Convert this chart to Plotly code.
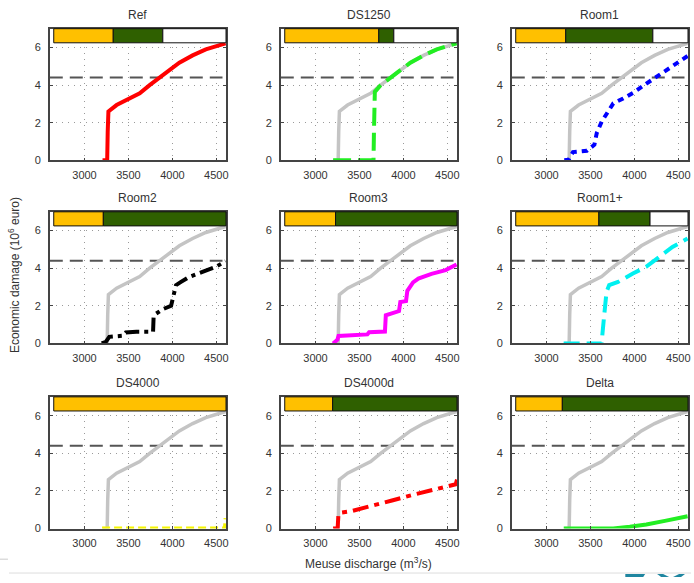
import plotly.graph_objects as go

# ---------------- data ----------------
titles = ["Ref", "DS1250", "Room1", "Room2", "Room3", "Room1+", "DS4000", "DS4000d", "Delta"]

ref_x = [3205, 3258, 3264, 3272, 3365, 3477, 3628, 3741, 3854, 3966, 4079, 4230, 4380, 4605]
ref_y = [0, 0, 1.5, 2.6, 2.94, 3.2, 3.56, 4.0, 4.4, 4.82, 5.19, 5.58, 5.9, 6.22]

ds1250_x = [3200, 3660, 3665, 3670, 3675, 3741, 3854, 3966, 4079, 4230, 4380, 4605]
ds1250_y = [0, 0, 1.5, 3.1, 3.64, 4.0, 4.4, 4.82, 5.19, 5.58, 5.9, 6.22]

room1_x = [3203, 3252, 3301, 3459, 3545, 3571, 3628, 3703, 3760, 3872, 3985, 4136, 4267, 4436, 4605]
room1_y = [0, 0.03, 0.44, 0.51, 0.83, 1.44, 2.06, 2.59, 3.03, 3.29, 3.59, 4.08, 4.49, 5.05, 5.55]

room2_x = [3196, 3244, 3282, 3440, 3470, 3590, 3780, 3786, 3816, 3891, 3985, 4020, 4041, 4098, 4192, 4342, 4493, 4605]
room2_y = [0, 0.09, 0.35, 0.41, 0.58, 0.62, 0.62, 1.4, 1.59, 1.82, 2.0, 2.7, 3.1, 3.27, 3.54, 3.8, 4.07, 4.37]

room3_x = [3200, 3250, 3262, 3380, 3590, 3610, 3790, 3800, 3950, 3965, 4030, 4045, 4090, 4110, 4170, 4320, 4480, 4605]
room3_y = [0, 0.2, 0.4, 0.43, 0.48, 0.6, 0.63, 1.5, 1.72, 2.2, 2.25, 2.8, 3.1, 3.25, 3.45, 3.7, 3.9, 4.2]

room1p_x = [3195, 3626, 3653, 3683, 3713, 3814, 3983, 4133, 4283, 4433, 4605]
room1p_y = [0, 0, 1.33, 2.74, 3.1, 3.27, 3.72, 4.07, 4.6, 5.13, 5.58]

ds4000_x = [3200, 4598, 4605]
ds4000_y = [0, 0, 0.55]

ds4000d_x = [3202, 3252, 3260, 3279, 3412, 3641, 3870, 4099, 4405, 4595, 4610]
ds4000d_y = [0, 0.04, 0.66, 0.84, 0.93, 1.19, 1.49, 1.78, 2.12, 2.35, 2.6]

delta_x = [3196, 3760, 3948, 4136, 4361, 4605]
delta_y = [0, 0, 0.09, 0.21, 0.42, 0.65]

scen_x = [ref_x, ds1250_x, room1_x, room2_x, room3_x, room1p_x, ds4000_x, ds4000d_x, delta_x]
scen_y = [ref_y, ds1250_y, room1_y, room2_y, room3_y, room1p_y, ds4000_y, ds4000d_y, delta_y]

# limits of the coloured bands (discharge, m3/s)
band_start = 2650
yellow_end = [3327, 3720, 3219, 3214, 3228, 3596, 4610, 3195, 3180]
green_end = [3891, 3891, 4210, 4610, 4610, 4178, 4610, 4610, 4610]

safety_level = 4.4
x_ticks = [3000, 3500, 4000, 4500]
y_ticks = [0, 2, 4, 6]

# ---------------- styles / layout ----------------
colors = ["#ff0000", "#22ee22", "#0000ff", "#000000", "#ff00ff", "#00f0f0", "#f5f500", "#ff0000", "#22ee22"]
dashes = ["solid", "18px,7px", "6px,5px", "14px,5px,4px,5px", "solid", "16px,7px", "8px,4px",
          "16px,6px,5px,6px", "solid"]
X_RANGE = [2605, 4610]
Y_RANGE = [0, 7]
W, H = 694, 583
col_left = [50, 282, 514]
col_w = 177
row_top = [29, 214, 401]
row_h = 133
FONT = "Liberation Sans, Arial, sans-serif"
YELLOW = "#ffc000"
DGREEN = "#2f6000"

fig = go.Figure()


def fx(v):
    return (v - X_RANGE[0]) / (X_RANGE[1] - X_RANGE[0])


def fy(v):
    return (v - Y_RANGE[0]) / (Y_RANGE[1] - Y_RANGE[0])


for i in range(9):
    r, c = divmod(i, 3)
    n = "" if i == 0 else str(i + 1)
    xa, ya = "x" + n, "y" + n
    xdom = [col_left[c] / W, min(1.0, (col_left[c] + col_w) / W)]
    ydom = [1 - (row_top[r] + row_h) / H, 1 - row_top[r] / H]
    common = dict(showline=True, linecolor="#444", linewidth=1.5, mirror="ticks",
                  ticks="inside", ticklen=3, tickcolor="#444",
                  showgrid=True, gridcolor="#9a9a9a", gridwidth=1, griddash="1px,5px",
                  zeroline=False, tickfont=dict(family=FONT, size=11, color="#333"))
    fig.layout["xaxis" + n] = dict(domain=xdom, range=X_RANGE, tickvals=x_ticks, anchor=ya,
                                   ticklabelstandoff=4, **common)
    fig.layout["yaxis" + n] = dict(domain=ydom, range=Y_RANGE, tickvals=y_ticks, anchor=xa,
                                   ticklabelstandoff=5, **common)

    # safety dashed line
    fig.add_trace(go.Scatter(x=[X_RANGE[0], 4570], y=[safety_level, safety_level], mode="lines",
                             line=dict(color="#555", width=2, dash="13px,7px"),
                             xaxis=xa, yaxis=ya, showlegend=False, hoverinfo="skip"))
    # reference curve (gray)
    if i != 0:
        fig.add_trace(go.Scatter(x=ref_x, y=ref_y, mode="lines",
                                 line=dict(color="#c4c4c4", width=3.5),
                                 xaxis=xa, yaxis=ya, showlegend=False))
    # scenario curve
    fig.add_trace(go.Scatter(x=scen_x[i], y=scen_y[i], mode="lines",
                             line=dict(color=colors[i], width=4, dash=dashes[i]),
                             xaxis=xa, yaxis=ya, showlegend=False, cliponaxis=False))

    # coloured bands on top
    xr, yr = xa + " domain", ya + " domain"
    segs = [(band_start, yellow_end[i], YELLOW)]
    if yellow_end[i] < X_RANGE[1]:
        segs.append((yellow_end[i], green_end[i], DGREEN))
    if green_end[i] < X_RANGE[1]:
        segs.append((green_end[i], X_RANGE[1], "white"))
    for a, b, col in segs:
        fig.add_shape(type="rect", xref=xr, yref=yr, x0=fx(a), x1=fx(b), y0=fy(6.25), y1=1.0,
                      fillcolor=col, line=dict(color="#111", width=1), layer="above")

    fig.add_annotation(text=titles[i], xref=xa + " domain", yref=ya + " domain", x=0.5, y=1,
                       xanchor="center", yanchor="bottom", yshift=5, showarrow=False,
                       font=dict(family=FONT, size=12, color="#333"))

# axis labels
fig.add_annotation(text="Economic damage (10<sup>6</sup> euro)", xref="paper", yref="paper",
                   x=14 / W, y=1 - 278 / H, xanchor="center", yanchor="middle",
                   textangle=-90, showarrow=False,
                   font=dict(family=FONT, size=12, color="#333"))
fig.add_annotation(text="Meuse discharge (m<sup>3</sup>/s)", xref="paper", yref="paper",
                   x=370 / W, y=1 - 569 / H, xanchor="center", yanchor="middle", showarrow=False,
                   font=dict(family=FONT, size=12, color="#333"))

# slide decorations at bottom
fig.add_shape(type="line", xref="paper", yref="paper", x0=9 / W, x1=1, y0=1 - 579 / H, y1=1 - 579 / H,
              line=dict(color="#dddddd", width=1))
fig.add_shape(type="line", xref="paper", yref="paper", x0=0, x1=8 / W, y0=1 - 565 / H, y1=1 - 565 / H,
              line=dict(color="#cccccc", width=1))


def quad(pts):
    p = ["%s %f %f" % ("M" if k == 0 else "L", x / W, 1 - y / H) for k, (x, y) in enumerate(pts)]
    return " ".join(p) + " Z"


for pts in ([(628, 583), (628, 580), (648, 580), (646, 583)],
            [(660, 580), (666, 580), (672, 583), (664, 583)],
            [(676, 583), (682, 580), (688, 580), (684, 583)]):
    fig.add_shape(type="path", xref="paper", yref="paper", path=quad(pts),
                  fillcolor="#1f86a0", line=dict(width=0))

fig.update_layout(width=W, height=H, margin=dict(l=0, r=0, t=0, b=0),
                  paper_bgcolor="white", plot_bgcolor="white",
                  font=dict(family=FONT))
fig.write_html("out.html", config={"displayModeBar": False},
               post_script="document.body.style.margin='0px';")
